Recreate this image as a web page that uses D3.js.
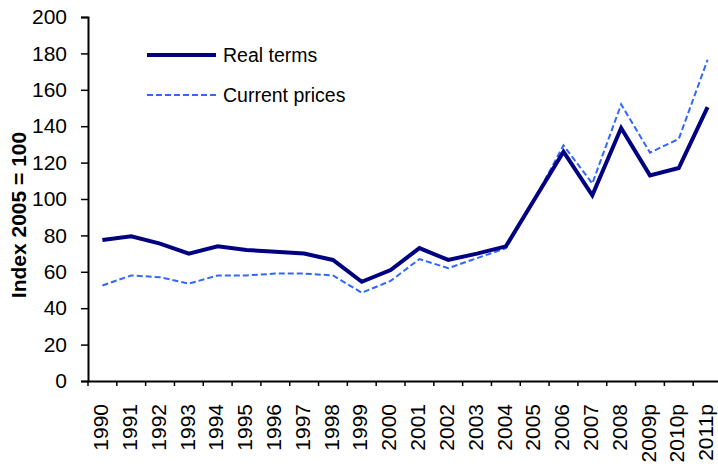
<!DOCTYPE html>
<html>
<head>
<meta charset="utf-8">
<script src="https://cdn.jsdelivr.net/npm/d3@7"></script>
<style>
  body { margin: 0; background: #fff; }
  svg { font-family: Arial, "Liberation Sans", sans-serif; display: block; }
</style>
</head>
<body>
<svg></svg>
<script>
const width = 718;
const height = 466;

const years = ['1990', '1991', '1992', '1993', '1994', '1995', '1996', '1997', '1998', '1999', '2000',
    '2001', '2002', '2003', '2004', '2005', '2006', '2007', '2008', '2009p', '2010p', '2011p'];
const realTerms = [77.5, 79.5, 75.5, 70, 74, 72, 71, 70, 66.5, 54.5, 61,
    73, 66.5, 70, 74, 100, 126, 102, 139, 113, 117, 150.5];
const currentPrices = [52.5, 58, 57, 53.5, 58, 58, 59, 59, 58, 48.5, 55,
    67, 62, 67.5, 73, 100, 129.5, 108.5, 152, 125.5, 133, 176.5];
const yTicks = [0, 20, 40, 60, 80, 100, 120, 140, 160, 180, 200];

const svg = d3.select('svg')
    .attr('width', width)
    .attr('height', height);

const x = d3.scaleBand()
    .domain(years)
    .range([88, 722]);

const y = d3.scaleLinear()
    .domain([0, 200])
    .range([381, 17]);

// axes
const yAxis = svg.append('g')
    .attr('transform', 'translate(88,0)')
    .call(d3.axisLeft(y).tickValues(yTicks).tickSize(7).tickPadding(14));

const xAxis = svg.append('g')
    .attr('transform', 'translate(0,381)')
    .call(d3.axisBottom(x).tickSize(5).tickSizeOuter(0));

[yAxis, xAxis].forEach(a => {
    a.select('.domain').attr('stroke', '#000').attr('stroke-width', 2);
    a.selectAll('.tick line').attr('stroke', '#000').attr('stroke-width', 1.5);
});
yAxis.selectAll('text').style('font-size', '21px').attr('fill', '#000');

// ticks sit on the band edges, labels in the middle
xAxis.selectAll('.tick line')
    .attr('transform', `translate(${-x.bandwidth() / 2},0)`);
xAxis.selectAll('.tick text')
    .attr('transform', 'translate(0,23) rotate(-90)')
    .attr('x', 0)
    .attr('y', 0)
    .attr('dy', '0.27em')
    .style('text-anchor', 'end')
    .style('font-size', '21px')
    .attr('fill', '#000');

svg.append('text')
    .attr('transform', 'translate(26,215) rotate(-90)')
    .attr('text-anchor', 'middle')
    .style('font-size', '21px')
    .style('font-weight', 'bold')
    .text('Index 2005 = 100');

// lines
const line = vals => d3.line()
    .x((d, i) => x(years[i]) + x.bandwidth() / 2)
    .y(d => y(d))(vals);

svg.append('path')
    .attr('d', line(currentPrices))
    .attr('fill', 'none')
    .attr('stroke', '#3366ff')
    .attr('stroke-width', 2)
    .attr('stroke-dasharray', '6,3');

svg.append('path')
    .attr('d', line(realTerms))
    .attr('fill', 'none')
    .attr('stroke', '#000080')
    .attr('stroke-width', 4)
    .attr('stroke-linejoin', 'miter');

// legend
const legend = svg.append('g');
const items = [
    { label: 'Real terms', color: '#000080', w: 4, dash: null },
    { label: 'Current prices', color: '#3366ff', w: 2, dash: '6,3' }
];
const li = legend.selectAll('g')
    .data(items)
    .enter().append('g')
    .attr('transform', (d, i) => `translate(147, ${55 + i * 40})`);
li.append('line')
    .attr('x1', 0).attr('x2', 69)
    .attr('stroke', d => d.color)
    .attr('stroke-width', d => d.w)
    .attr('stroke-dasharray', d => d.dash);
li.append('text')
    .attr('x', 76)
    .attr('dy', '0.35em')
    .style('font-size', '19.5px')
    .text(d => d.label);
</script>
</body>
</html>
